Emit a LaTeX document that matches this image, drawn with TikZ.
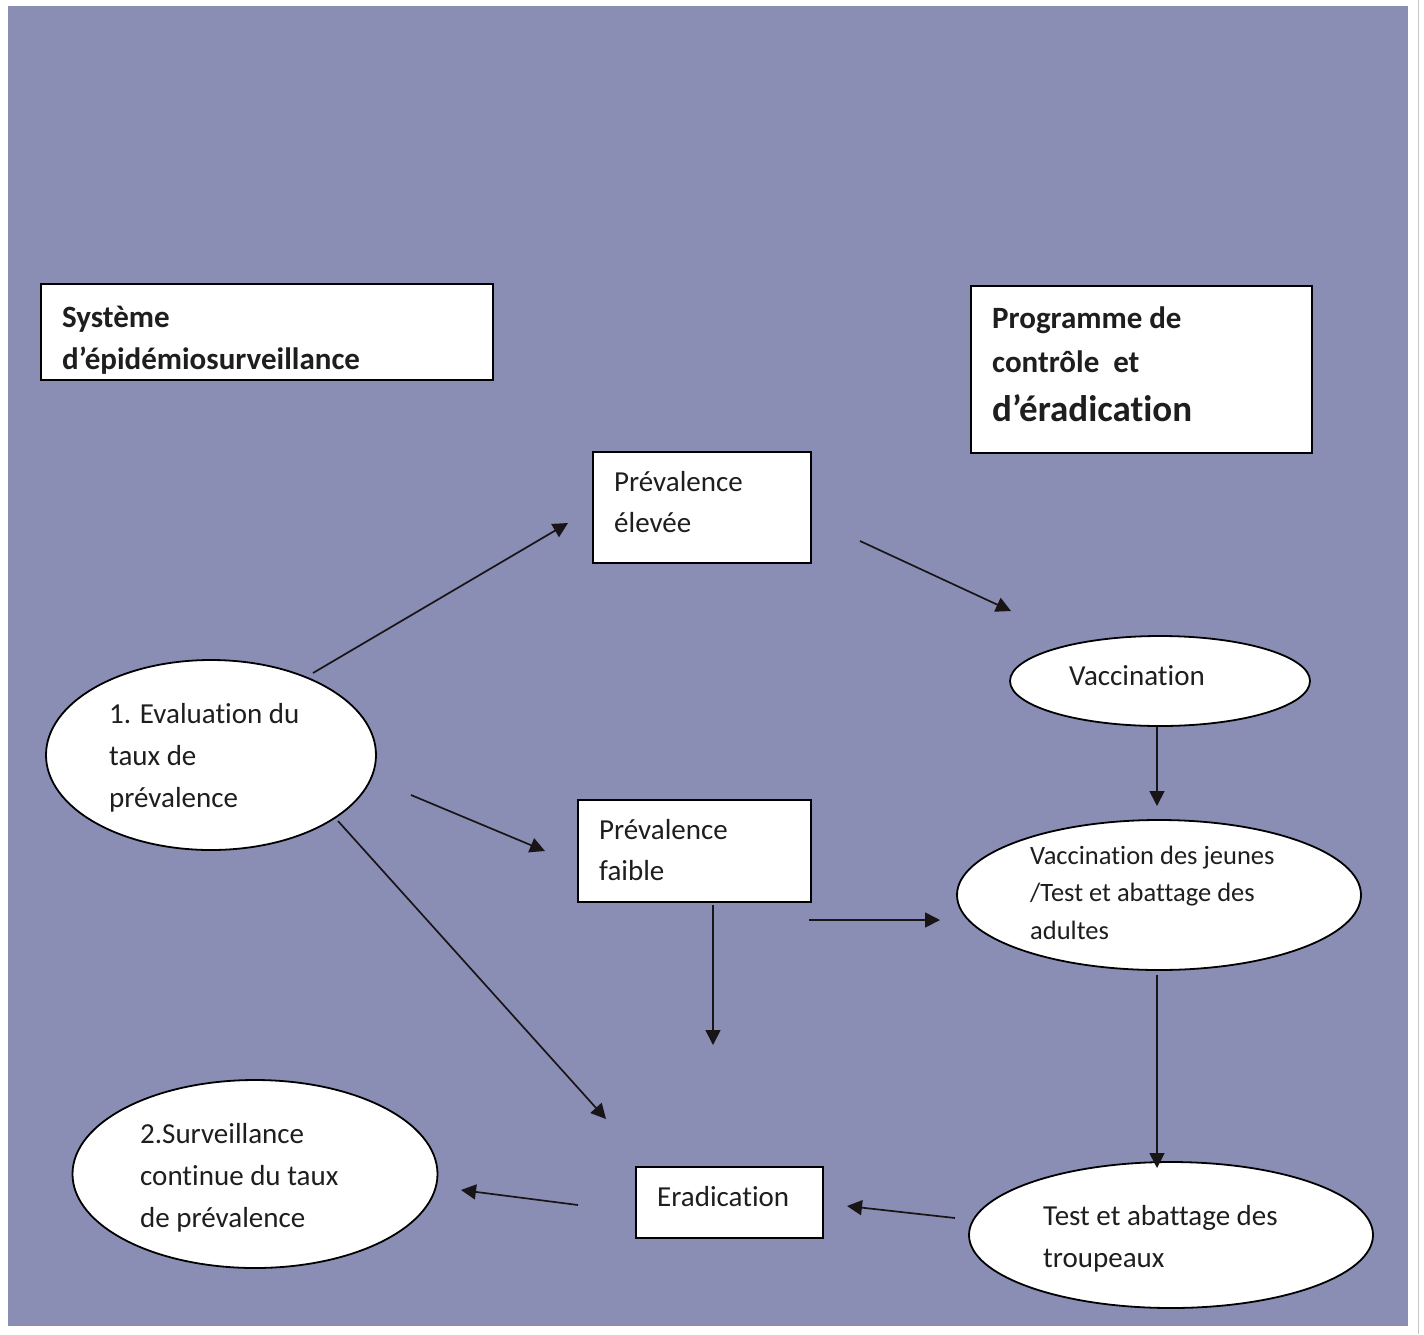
\documentclass[tikz,border=0pt]{standalone}
\usepackage{fontspec}
\setmainfont{Carlito}[RawFeature={-liga;-clig;-calt;-dlig}]
\usetikzlibrary{shapes.geometric,arrows.meta}
\definecolor{bgc}{RGB}{138,142,180}
\definecolor{txt}{RGB}{30,30,30}
\definecolor{ink}{RGB}{25,20,22}
\begin{document}
\begin{tikzpicture}[x=1pt,y=-1pt,
  box/.style={draw=black, line width=1.6pt, fill=white, inner sep=0, rectangle},
  oval/.style={ellipse, draw=black, line width=1.8pt, fill=white, inner sep=0},
  lbl/.style={anchor=base west, align=left, inner sep=0, text=txt, font=\fontsize{29}{42}\selectfont},
  lblb/.style={lbl, font=\fontsize{29}{40.5}\selectfont},
  small/.style={lbl, font=\fontsize{26.5}{37.5}\selectfont},
  hdr/.style={lbl, font=\bfseries\fontsize{31}{43}\selectfont},
  arr/.style={-{Triangle[length=15pt,width=15pt]}, line width=1.7pt, ink}]
\useasboundingbox (0,0) rectangle (1424,1334);
\fill[white] (0,0) rectangle (1424,1334);
\fill[bgc] (8,6) rectangle (1408,1326);
\draw[gray!45, line width=1pt] (1418,0) -- (1418,1334);

% boxes
\node[box, minimum width=452pt, minimum height=96pt] (bsys) at (267,332) {};
\node[box, minimum width=341pt, minimum height=167pt] (bprog) at (1141.5,369.5) {};
\node[box, minimum width=218pt, minimum height=111pt] (bhigh) at (702,507.5) {};
\node[box, minimum width=233pt, minimum height=102pt] (blow) at (694.5,851) {};
\node[box, minimum width=187pt, minimum height=71pt] (berad) at (729.5,1202.5) {};

% ellipses
\node[oval, minimum width=330pt, minimum height=190pt] (eeval) at (211,755) {};
\node[oval, minimum width=300pt, minimum height=90pt] (evacc) at (1160,681) {};
\node[oval, minimum width=404pt, minimum height=150pt] (evdj) at (1159,895) {};
\node[oval, minimum width=404pt, minimum height=146pt] (etest) at (1171,1235) {};
\node[oval, minimum width=365pt, minimum height=188pt] (esurv) at (255,1174) {};

% arrow end points
\coordinate (a1s) at (313,673);  \coordinate (a1e) at (568,523);
\coordinate (a2s) at (860,541);  \coordinate (a2e) at (1011,611);
\coordinate (a3s) at (411,795);  \coordinate (a3e) at (545,851);
\coordinate (a4s) at (338,821);  \coordinate (a4e) at (606,1119);
\coordinate (a5s) at (713,905);  \coordinate (a5e) at (713,1045);
\coordinate (a6s) at (809,920);  \coordinate (a6e) at (940,920);
\coordinate (a7s) at (1157,727); \coordinate (a7e) at (1157,806);
\coordinate (a8s) at (1157,975); \coordinate (a8e) at (1157,1168);
\coordinate (a9s) at (955,1218); \coordinate (a9e) at (847,1206);
\coordinate (a10s) at (578,1205); \coordinate (a10e) at (461,1190);

\draw[arr] (a1s) -- (a1e);
\draw[arr] (a2s) -- (a2e);
\draw[arr] (a3s) -- (a3e);
\draw[arr] (a4s) -- (a4e);
\draw[arr] (a5s) -- (a5e);
\draw[arr] (a6s) -- (a6e);
\draw[arr] (a7s) -- (a7e);
\draw[arr] (a8s) -- (a8e);
\draw[arr] (a9s) -- (a9e);
\draw[arr] (a10s) -- (a10e);

% texts (anchor = baseline of the last line)
\node[hdr, font=\bfseries\fontsize{31}{42}\selectfont] (tsys) at (62,369) {Système\\d’épidémiosurveillance};
\node[hdr, font=\bfseries\fontsize{31}{44}\selectfont] (tprog) at (992,421) {Programme de\\contrôle\ \ et\\[5pt]{\fontsize{37}{44}\selectfont d’éradication}};
\node[lblb] (thigh) at (614,532) {Prévalence\\élevée};
\node[lblb] (tlow) at (599,880) {Prévalence\\faible};
\node[lbl] (terad) at (657,1206) {Eradication};
\node[lbl] (teval) at (109,807) {1. Evaluation du\\taux de\\prévalence};
\node[lbl] (tsurv) at (140,1227) {2.Surveillance\\continue du taux\\de prévalence};
\node[lbl] (tvacc) at (1069,685) {Vaccination};
\node[small] (tvdj) at (1030,939) {Vaccination des jeunes\\/Test et abattage des\\adultes};
\node[lbl] (ttest) at (1043,1267) {Test et abattage des\\troupeaux};
\end{tikzpicture}
\end{document}
